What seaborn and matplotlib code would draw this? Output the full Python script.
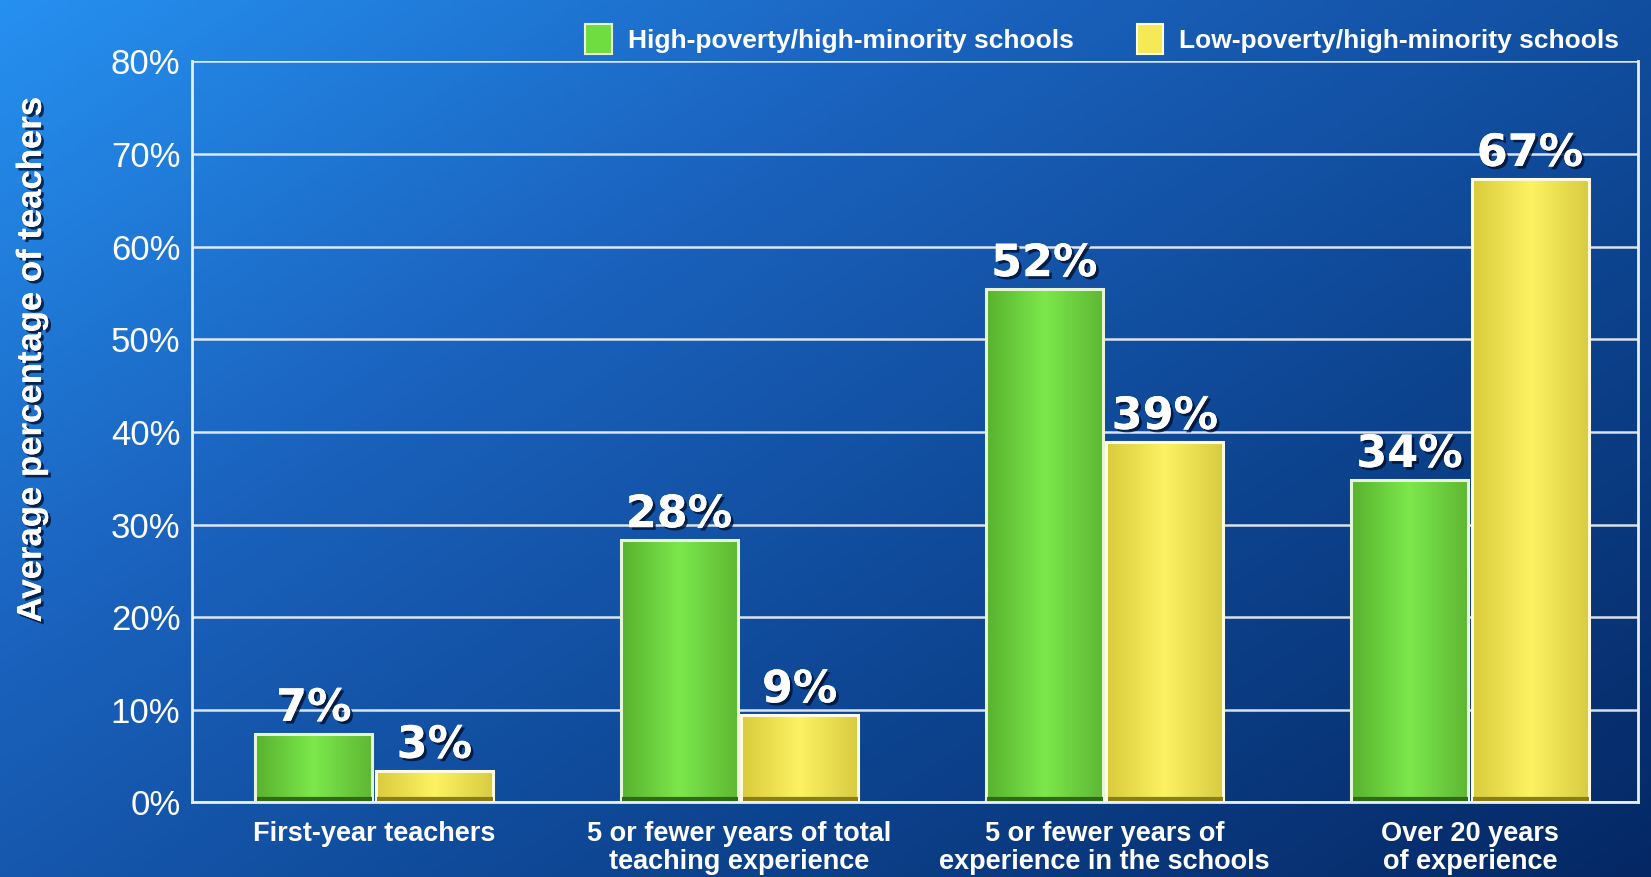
import numpy as np
import pandas as pd
import matplotlib
matplotlib.use("Agg")
import matplotlib.pyplot as plt
import matplotlib.patheffects as pe
from matplotlib.colors import LinearSegmentedColormap
from matplotlib.patches import Patch
import seaborn as sns

# data
categories = ["First-year teachers",
              "5 or fewer years of total\nteaching experience",
              "5 or fewer years of\nexperience in the schools",
              "Over 20 years\nof experience"]
groups = ["High-poverty/high-minority schools", "Low-poverty/high-minority schools"]
high_vals = [7.4, 28.3, 55.4, 34.8]
low_vals = [3.4, 9.4, 38.9, 67.3]
high_labels = ["7%", "28%", "52%", "34%"]
low_labels = ["3%", "9%", "39%", "67%"]
yticks = [0, 10, 20, 30, 40, 50, 60, 70, 80]

df = pd.DataFrame({
    "cat": categories * 2,
    "group": [groups[0]] * 4 + [groups[1]] * 4,
    "value": high_vals + low_vals,
})

sns.set_theme(style="white")
plt.rcParams["font.family"] = ["Liberation Sans", "DejaVu Sans"]

green = "#6fdc40"
yellow = "#f5ea55"

fig = plt.figure(figsize=(16.51, 8.77), dpi=100)

# background gradient
bg = fig.add_axes([0, 0, 1, 1], zorder=-10)
xx, yy = np.meshgrid(np.linspace(0, 1, 400), np.linspace(0, 1, 220))
grad = 0.62 * xx + 0.5 * yy
bg_cmap = LinearSegmentedColormap.from_list("bg", ["#2690f0", "#1a62bd", "#0d4490", "#052864"])
bg.imshow(grad, extent=[0, 1, 0, 1], aspect="auto", cmap=bg_cmap, origin="upper")
bg.axis("off")

ax = fig.add_axes([0.116, 0.085, 0.876, 0.845])
ax.patch.set_alpha(0)

sns.barplot(data=df, x="cat", y="value", hue="group", palette=[green, yellow],
            width=0.66, gap=0.03, ax=ax, legend=False, saturation=1)

ax.set_yticks(yticks)
ax.set_yticklabels([f"{v}%" for v in yticks], color="white", fontsize=25)
ax.set_xticks(range(len(categories)))
ax.set_xticklabels(categories, color="white", fontsize=19.5, fontweight="bold",
                   linespacing=1.1)
ax.tick_params(axis="x", length=0, pad=13)
ax.tick_params(axis="y", length=0, pad=8)
ax.set_xlabel("")
ax.set_ylabel("")
ax.set_axisbelow(True)
ax.yaxis.grid(True, color="white", lw=1.8, alpha=0.85)
for s in ["left", "bottom", "right"]:
    ax.spines[s].set_color("#e8eef8")
    ax.spines[s].set_linewidth(2)
ax.spines["top"].set_visible(False)

# shaded bar fill with a light rim and dark base
g_cmap = LinearSegmentedColormap.from_list("g", ["#58b22e", "#7ce84c", "#5fb834"])
y_cmap = LinearSegmentedColormap.from_list("y", ["#d9cb3c", "#fcf262", "#d9cc42"])
shade = np.linspace(0, 1, 64).reshape(1, -1)
for cont, cmap, edge, base in zip(ax.containers, [g_cmap, y_cmap],
                                  ["#e6f5d8", "#fffbe2"], ["#2f6a18", "#8a7e18"]):
    for p in cont:
        x, y0, w, h = p.get_x(), p.get_y(), p.get_width(), p.get_height()
        im = ax.imshow(shade, extent=[x, x + w, y0, y0 + h], aspect="auto",
                       cmap=cmap, zorder=2.5)
        im.set_clip_path(p)
        p.set_facecolor("none")
        p.set_edgecolor(edge)
        p.set_linewidth(2.2)
        p.set_zorder(3)
        ax.plot([x + 0.004, x + w], [y0 + 0.35, y0 + 0.35], color=base, lw=3,
                zorder=3.5, solid_capstyle="butt")
ax.set_ylim(0, 80)
ax.set_xlim(-0.5, 3.46)

shadow = [pe.withSimplePatchShadow(offset=(2, -2), shadow_rgbFace="#001030", alpha=0.8), pe.Normal()]
for cont, labs in zip(ax.containers, [high_labels, low_labels]):
    ax.bar_label(cont, labels=labs, color="white", fontsize=32, fontweight="bold",
                 family="DejaVu Sans", padding=3, path_effects=shadow)

fig.text(0.019, 0.59, "Average percentage of teachers", rotation=90, color="white",
         fontsize=25, fontweight="bold", ha="center", va="center",
         path_effects=shadow)

handles = [Patch(facecolor=green, edgecolor="#e6f5d8", lw=1.5),
           Patch(facecolor=yellow, edgecolor="#fffbe2", lw=1.5)]
fig.legend(handles, groups, loc="upper right", bbox_to_anchor=(0.995, 1.0), ncol=2,
           frameon=False, labelcolor="white", prop={"size": 19, "weight": "bold"},
           handlelength=1.0, handleheight=1.4, columnspacing=2.4, handletextpad=0.6)

fig.savefig("out.png", dpi=100)
